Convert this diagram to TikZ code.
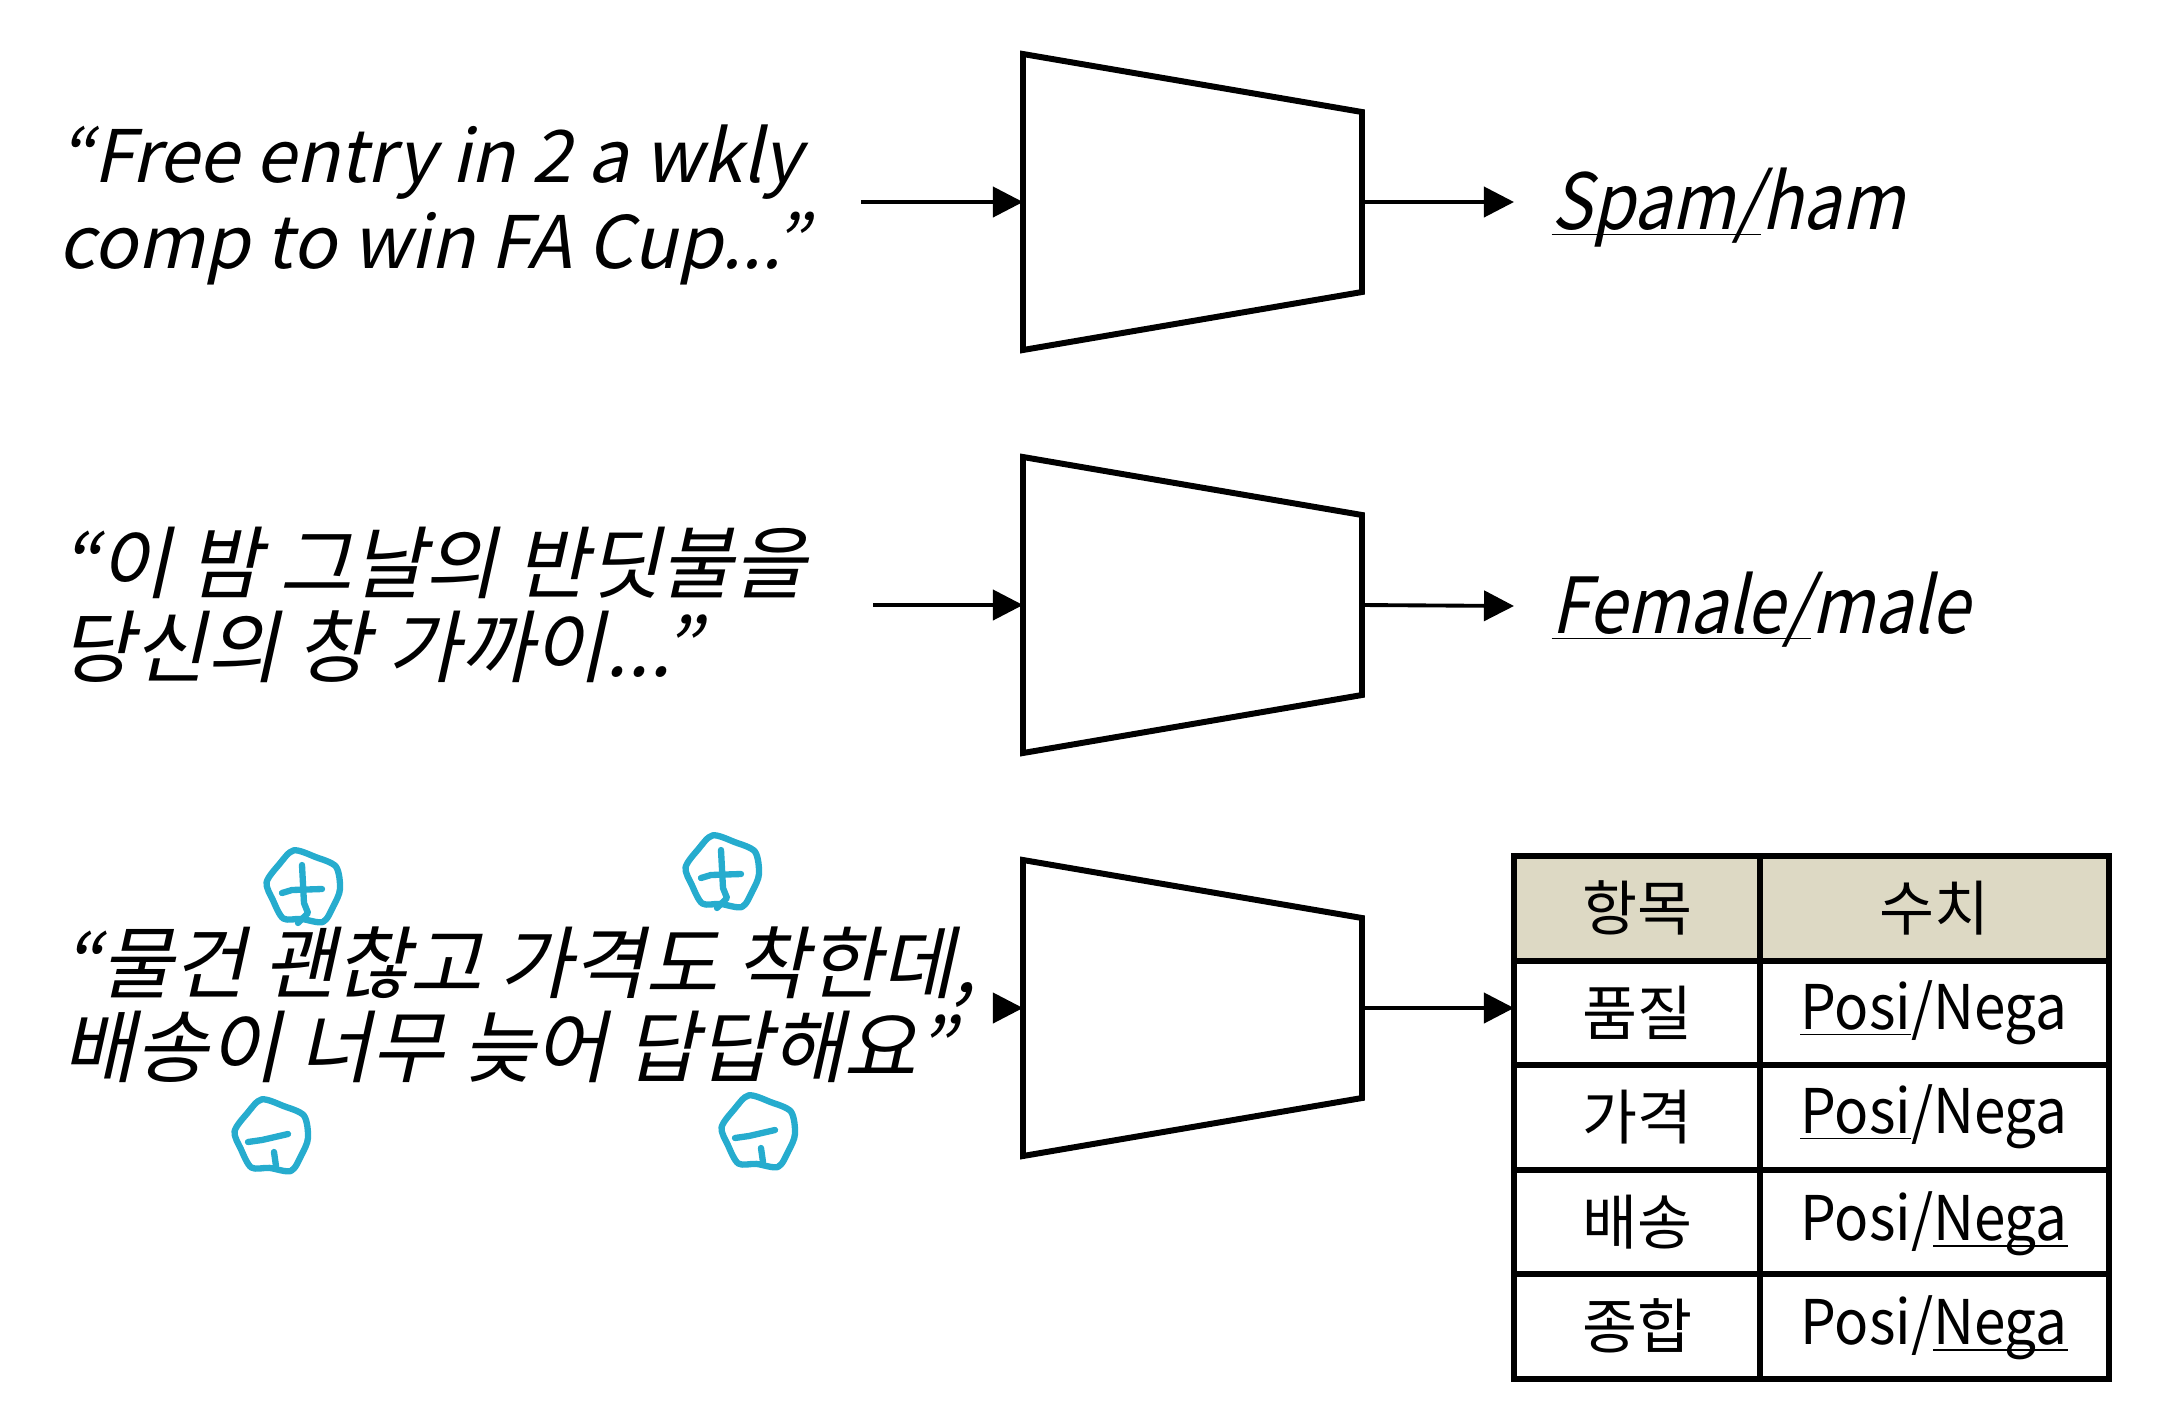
\documentclass[tikz,border=0pt]{standalone}
\usepackage{fontspec}
\setmainfont{Noto Sans CJK KR}[AutoFakeSlant=0.22]
\newfontfamily\narrowfont{Noto Sans CJK KR}[FakeStretch=0.88, AutoFakeSlant=0.22]
\newfontfamily\cellfont{Noto Sans CJK KR}[FakeStretch=0.92]
\usetikzlibrary{arrows.meta}
\definecolor{markblue}{RGB}{38,172,206}
\definecolor{headfill}{RGB}{221,217,196}
\newcommand{\posiu}{\underline{\smash{Posi}}/Nega}
\newcommand{\negau}{Posi/\underline{\smash{Nega}}}

\begin{document}
\begin{tikzpicture}[x=0.01cm, y=-0.01cm,
  trap/.style={line width=1.7pt, line join=miter},
  arr/.style={line width=1.1pt, -{Triangle[length=0.3cm, width=0.3cm]}},
  src/.style={anchor=west, align=left, inner sep=0pt, font=\fontsize{20.6}{24.5}\selectfont\itshape},
  srckr/.style={src, font=\fontsize{22.5}{24}\selectfont\itshape},
  lab/.style={anchor=west, inner sep=0pt, inner xsep=0.37cm, font=\narrowfont\fontsize{22}{26}\selectfont\itshape},
  cell/.style={font=\fontsize{17}{20}\selectfont},
  cellval/.style={font=\cellfont\fontsize{17.5}{20}\selectfont},
  tbl/.style={line width=1.6pt},
  penmark/.style={markblue, line width=1.8pt, line cap=round, line join=round}]

\useasboundingbox (0,0) rectangle (2168,1408);

% ---- Input sentences ----
\node[src] (spam) at (58,205) {“Free entry in 2 a wkly\\comp to win FA Cup...”};
\node[srckr] (poem) at (60,605) {“이 밤 그날의 반딧불을\\당신의 창 가까이...”};
\node[srckr] (review) at (62,1005) {“물건 괜찮고 가격도 착한데,\\배송이 너무 늦어 답답해요”};

% ---- Models (trapezoids) ----
\foreach \k/\y in {1/202,2/605,3/1008} {
  \draw[trap] (1023,\y-148) -- (1362,\y-90) -- (1362,\y+90) -- (1023,\y+148) -- cycle;
  \coordinate (tin\k) at (1023,\y);
  \coordinate (tout\k) at (1362,\y);
}

% Arrow start points
\coordinate (s1) at (861,202);
\coordinate (s2) at (873,605);
\coordinate (s3) at (993,1008);

\foreach \k in {1,2,3}
  \draw[arr] (s\k) -- (tin\k);

% ---- Outputs ----
\node[lab] (o1) at (1514,202) {\underline{\smash{Spam/}}ham};
\node[lab] (o2) at (1514,606) {\underline{\smash{Female/}}male};
\coordinate (tbl) at (1514,1008);

\draw[arr] (tout1) -- (o1.west);
\draw[arr] (tout2) -- (o2.west);
\draw[arr] (tout3) -- (tbl);

% ---- Aspect table ----
\fill[headfill] (1514,856) rectangle (2109,961);
\foreach \yy in {961,1065,1170,1274}
  \draw[tbl] (1514,\yy) -- (2109,\yy);
\draw[tbl] (1760,856) -- (1760,1379);
\draw[tbl] (1514,856) rectangle (2109,1379);

\node[cell] (h1) at (1637,908) {항목};
\node[cell] (h2) at (1934,908) {수치};
\foreach \r/\name/\val [count=\i] in {1013/품질/\posiu, 1117/가격/\posiu, 1222/배송/\negau, 1326/종합/\negau} {
  \node[cell] (k\i) at (1637,\r) {\name};
  \node[cellval] (v\i) at (1934,\r) {\val};
}

% ---- Hand-drawn sentiment marks ----
\foreach \x/\y in {304/889, 723/874, 272/1138, 759/1134}
  \draw[penmark, shift={(\x,\y)}] plot[smooth cycle] coordinates
    {(0:36) (30:34) (60:38) (95:30) (125:36) (160:33) (190:38) (225:35) (255:40) (290:34) (325:39)};
\foreach \x/\y in {304/889, 723/874} {
  \draw[penmark] (\x-22,\y+4) -- (\x-12,\y+1) -- (\x+18,\y);
  \draw[penmark] (\x-2,\y-24) -- (\x,\y+14) -- (\x+4,\y+24) -- (\x-6,\y+34);
}
\foreach \x/\y in {272/1138, 759/1134} {
  \draw[penmark] (\x-24,\y+4) -- (\x-10,\y+2) -- (\x+16,\y-4);
  \draw[penmark] (\x+2,\y+14) -- (\x+4,\y+28);
}

\end{tikzpicture}
\end{document}
